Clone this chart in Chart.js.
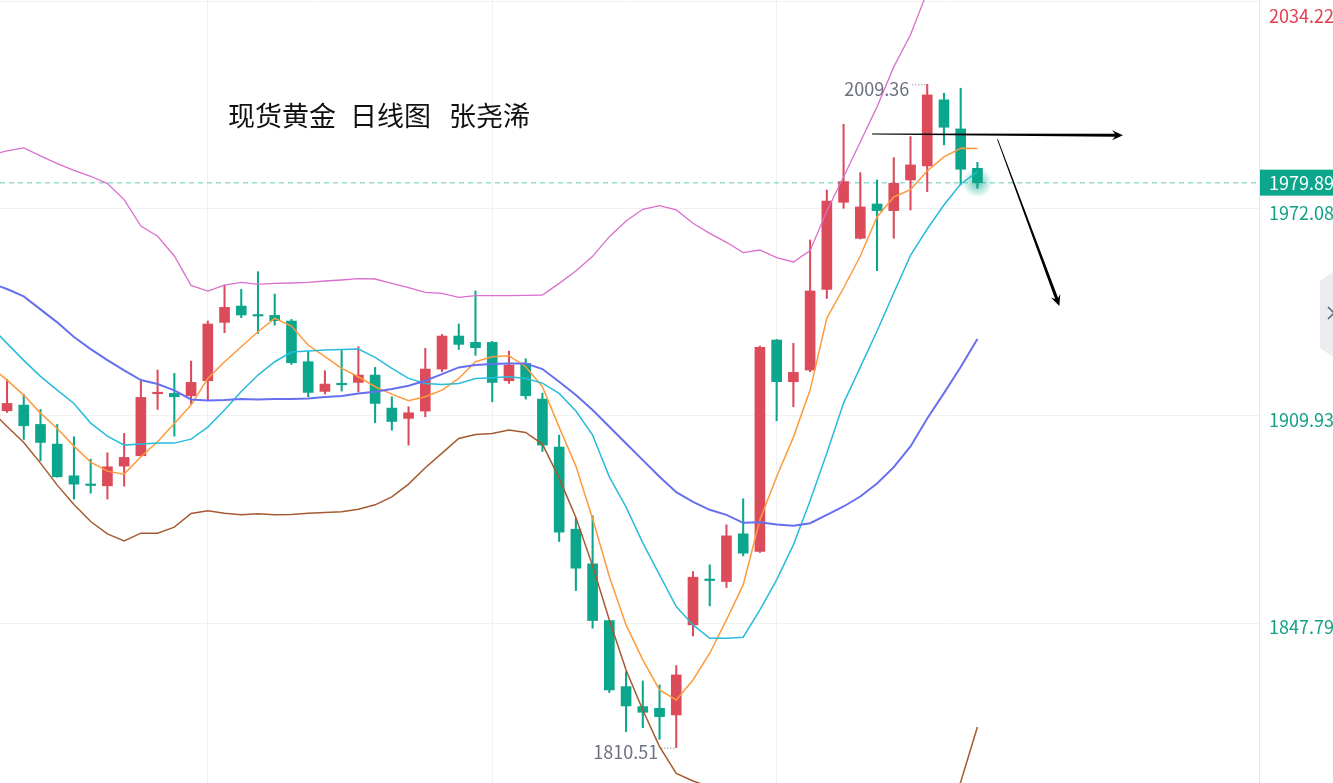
<!DOCTYPE html>
<html lang="zh">
<head>
<meta charset="utf-8">
<title>现货黄金 日线图</title>
<script src="https://cdn.jsdelivr.net/npm/chart.js@4.4.1/dist/chart.umd.min.js"></script>
<style>
  html, body { margin: 0; padding: 0; background: #fff; }
  #wrap { position: relative; width: 1333px; height: 783px; overflow: hidden; }
</style>
</head>
<body>
<div id="wrap"><canvas id="goldChart"></canvas></div>
<script>
// 日K数据：第0根到第58根（左 -> 右）
const opens = [
  1911.5, 1913.2, 1907.4, 1901.5, 1892.0, 1889.4, 1889.0, 1894.9, 1898.0, 1916.6,
  1916.7, 1916.0, 1920.5, 1938.0, 1942.9, 1940.1, 1940.1, 1938.4, 1926.2, 1917.3,
  1919.6, 1920.0, 1922.2, 1912.3, 1909.2, 1911.4, 1924.0, 1933.9, 1932.0, 1932.0,
  1920.5, 1925.7, 1915.0, 1900.6, 1876.0, 1865.6, 1848.6, 1828.8, 1822.8, 1822.3,
  1820.3, 1847.3, 1860.9, 1860.3, 1874.6, 1869.3, 1932.7, 1920.2, 1923.7, 1947.9,
  1974.0, 1963.2, 1973.5, 1971.5, 1980.7, 1984.9, 2004.7, 1996.0, 1984.2
];
const closes = [
  1913.7, 1907.0, 1902.0, 1891.7, 1889.5, 1889.1, 1894.7, 1897.5, 1915.5, 1916.9,
  1915.7, 1920.0, 1937.5, 1942.5, 1940.2, 1939.9, 1938.5, 1925.9, 1917.0, 1919.5,
  1919.3, 1922.2, 1913.7, 1908.3, 1910.9, 1924.0, 1933.9, 1931.4, 1930.4, 1920.0,
  1925.2, 1916.0, 1901.2, 1875.1, 1864.3, 1848.6, 1827.8, 1823.0, 1821.1, 1819.8,
  1832.3, 1861.6, 1860.6, 1874.0, 1868.8, 1930.5, 1920.2, 1923.0, 1947.4, 1974.4,
  1980.2, 1972.6, 1971.5, 1979.7, 1985.2, 2006.2, 1996.5, 1983.9, 1979.89
];
const highs = [
  1920.9, 1916.4, 1911.9, 1907.4, 1903.7, 1897.0, 1898.9, 1904.7, 1920.4, 1923.7,
  1922.7, 1926.4, 1938.4, 1949.2, 1947.9, 1953.2, 1946.5, 1938.9, 1929.2, 1923.5,
  1929.7, 1930.7, 1924.5, 1915.7, 1912.7, 1930.2, 1934.4, 1937.5, 1947.4, 1932.3,
  1929.4, 1927.1, 1916.8, 1904.2, 1879.3, 1880.0, 1848.6, 1833.3, 1830.5, 1829.3,
  1835.1, 1863.3, 1865.3, 1877.3, 1885.1, 1930.9, 1932.9, 1931.7, 1962.7, 1977.7,
  1997.4, 1982.9, 1980.7, 1987.4, 1993.7, 2009.36, 2006.7, 2008.2, 1986.0
];
const lows = [
  1911.0, 1902.9, 1896.5, 1891.6, 1885.0, 1886.8, 1885.0, 1888.9, 1897.9, 1911.9,
  1903.9, 1913.5, 1914.7, 1934.9, 1939.4, 1934.7, 1937.2, 1925.4, 1915.7, 1916.5,
  1917.4, 1917.2, 1907.9, 1905.7, 1901.2, 1909.7, 1923.2, 1929.9, 1928.1, 1914.2,
  1919.7, 1915.0, 1899.3, 1872.3, 1857.6, 1846.3, 1827.0, 1815.3, 1816.5, 1813.0,
  1810.51, 1844.0, 1853.0, 1858.5, 1868.0, 1869.0, 1908.5, 1912.7, 1923.2, 1945.2,
  1972.2, 1963.0, 1953.5, 1963.2, 1971.7, 1977.2, 1991.2, 1979.2, 1978.2
];

// 均线/布林带从第 -1 根开始（左边被截掉的那根）
const lineStart = -1;
const ma5 = [
  1924.9, 1920.7, 1916.2, 1910.8, 1906.2, 1900.9, 1896.1, 1893.4, 1892.5, 1897.7, 1902.2,
  1907.7, 1913.2, 1921.2, 1926.2, 1930.7, 1935.2, 1939.2, 1936.9, 1931.2, 1927.7,
  1924.2, 1921.7, 1918.7, 1916.5, 1914.5, 1915.7, 1917.7, 1921.2, 1926.2, 1927.7,
  1928.0, 1924.7, 1918.7, 1906.6, 1894.9, 1879.1, 1861.8, 1847.3, 1836.8, 1827.8,
  1824.8, 1830.8, 1838.8, 1848.8, 1859.3, 1878.8, 1891.7, 1903.6, 1917.7, 1939.3,
  1948.3, 1957.9, 1969.6, 1975.6, 1977.8, 1983.4, 1987.6, 1990.2, 1990.1
];
const ma10 = [
  1936.9, 1931.7, 1926.6, 1921.8, 1917.7, 1913.7, 1907.8, 1903.9, 1901.2, 1901.5, 1901.8,
  1901.8, 1903.0, 1906.6, 1911.7, 1917.3, 1922.2, 1926.2, 1929.1, 1929.4, 1929.7,
  1929.9, 1930.0, 1927.5, 1924.2, 1921.2, 1919.7, 1919.4, 1919.7, 1921.2, 1921.4,
  1921.7, 1921.2, 1919.8, 1916.7, 1911.4, 1904.2, 1891.7, 1882.6, 1871.9, 1862.3,
  1852.8, 1847.3, 1843.3, 1843.3, 1843.6, 1851.8, 1860.8, 1871.3, 1884.5, 1898.8,
  1913.8, 1924.6, 1935.4, 1946.8, 1958.1, 1966.0, 1973.2, 1979.5, 1983.1
];
const bollUp = [
  1988.2, 1989.4, 1990.3, 1987.9, 1985.6, 1983.6, 1981.8, 1979.6, 1974.8, 1966.9, 1963.8,
  1957.9, 1949.1, 1947.4, 1949.2, 1950.0, 1949.4, 1949.7, 1949.8, 1950.0, 1950.4,
  1950.7, 1951.1, 1951.0, 1949.7, 1948.4, 1947.0, 1946.7, 1945.5, 1946.0, 1946.0,
  1946.0, 1946.1, 1946.2, 1949.7, 1953.4, 1957.8, 1963.7, 1968.4, 1971.9, 1973.0,
  1971.7, 1967.7, 1964.7, 1962.0, 1958.9, 1959.7, 1957.4, 1956.1, 1959.5, 1971.4,
  1981.6, 1992.1, 2002.6, 2014.6, 2024.2, 2037.1, 2043.3, 2049.0, 2049.3
];
const bollMid = [
  1949.8, 1948.0, 1945.8, 1941.9, 1938.0, 1933.6, 1930.0, 1926.7, 1923.6, 1920.7, 1919.5,
  1917.6, 1914.9, 1914.6, 1914.7, 1915.0, 1914.9, 1915.0, 1915.0, 1915.2, 1915.6,
  1915.9, 1916.7, 1917.2, 1918.0, 1919.0, 1920.5, 1922.5, 1924.5, 1925.2, 1925.5,
  1925.7, 1925.7, 1924.0, 1920.2, 1916.2, 1911.7, 1906.7, 1901.7, 1896.7, 1891.7,
  1887.1, 1884.2, 1881.8, 1880.3, 1877.9, 1878.1, 1877.4, 1877.0, 1877.8, 1880.3,
  1882.8, 1885.8, 1889.7, 1894.6, 1900.8, 1909.2, 1916.8, 1924.6, 1933.0
];
const bollLow = [
  1911.7, 1906.8, 1902.0, 1895.8, 1889.2, 1883.4, 1878.3, 1874.6, 1872.5, 1874.8, 1874.8,
  1876.6, 1880.7, 1881.5, 1880.8, 1880.3, 1880.6, 1880.3, 1880.4, 1880.8, 1881.0,
  1881.2, 1882.0, 1883.3, 1885.7, 1889.5, 1894.4, 1898.8, 1903.2, 1904.4, 1904.7,
  1905.7, 1905.0, 1901.5, 1891.3, 1879.5, 1865.0, 1848.8, 1833.8, 1821.8, 1810.8,
  1802.8, 1800.5, 1798.8, 1798.5, 1797.0, 1796.4, 1797.4, 1797.8, 1796.0, 1789.1,
  1784.0, 1779.5, 1776.8, 1774.7, 1777.4, 1781.3, 1790.3, 1800.2, 1816.7
];

// 右侧价格刻度、现价、标注
const priceTicks = [1847.79, 1909.93, 1972.08, 2034.22];
const lastPrice = 1979.89;
const highMark = 2009.36;
const lowMark = 1810.51;
const gridDays = [12, 29, 46];

const upColor = '#db4b59';
const downColor = '#0ba68b';
const isUp = i => closes[i] >= opens[i];
const candleColor = ctx => isUp(ctx.dataIndex) ? upColor : downColor;

const wickData = opens.map((_, i) => ({ x: i, y: [lows[i], highs[i]] }));
const bodyData = opens.map((_, i) => ({ x: i, y: [opens[i], closes[i]] }));
const toPoints = arr => arr.map((v, k) => ({ x: lineStart + k, y: v }));

function lineSet(label, values, color, width) {
  return {
    type: 'line', label, data: toPoints(values),
    borderColor: color, borderWidth: width,
    pointRadius: 0, tension: 0, order: 0
  };
}

// 箭头（数据坐标：第几根K线，价格）
const arrows = [
  { from: [51.7, 1994.5], to: [66.7, 1994.1], w1: 1, w2: 3 },
  { from: [59.2, 1992.9], to: [62.9, 1942.9], w1: 0.8, w2: 3.2 }
];

function taperArrow(ctx, x1, y1, x2, y2, w1, w2) {
  const dx = x2 - x1, dy = y2 - y1, len = Math.hypot(dx, dy);
  const ux = dx / len, uy = dy / len, nx = -uy, ny = ux;
  const headLen = 11, headHalf = 5;
  const bx = x2 - ux * headLen, by = y2 - uy * headLen;
  const nb = x2 - ux * (headLen - 3), mb = y2 - uy * (headLen - 3);
  ctx.beginPath();
  ctx.moveTo(x1 + nx * w1 / 2, y1 + ny * w1 / 2);
  ctx.lineTo(nb + nx * w2 / 2, mb + ny * w2 / 2);
  ctx.lineTo(bx + nx * headHalf, by + ny * headHalf);
  ctx.lineTo(x2, y2);
  ctx.lineTo(bx - nx * headHalf, by - ny * headHalf);
  ctx.lineTo(nb - nx * w2 / 2, mb - ny * w2 / 2);
  ctx.lineTo(x1 - nx * w1 / 2, y1 - ny * w1 / 2);
  ctx.closePath();
  ctx.fill();
}

function markLabel(ctx, text, px, py) {
  ctx.font = '18px "Noto Sans CJK SC"';
  ctx.fillStyle = '#6c7080';
  ctx.textAlign = 'right';
  ctx.textBaseline = 'middle';
  ctx.fillText(text, px - 18, py + 5);
  ctx.strokeStyle = '#6c7080';
  ctx.lineWidth = 1;
  ctx.setLineDash([1, 2]);
  ctx.beginPath();
  ctx.moveTo(px - 15, py + 0.5);
  ctx.lineTo(px, py + 0.5);
  ctx.stroke();
  ctx.setLineDash([]);
}

const overlay = {
  id: 'overlay',
  beforeDatasetsDraw(chart) {
    const { ctx, chartArea: a, scales: { y } } = chart;
    const py = y.getPixelForValue(lastPrice);
    ctx.save();
    ctx.setLineDash([5, 4]);
    ctx.strokeStyle = 'rgba(11,166,139,0.42)';
    ctx.lineWidth = 1.5;
    ctx.beginPath();
    ctx.moveTo(a.left, py);
    ctx.lineTo(a.right, py);
    ctx.stroke();
    ctx.restore();
  },
  afterDatasetsDraw(chart) {
    const { ctx, scales: { x, y } } = chart;
    ctx.save();

    // 最新K线的光晕
    const gx = x.getPixelForValue(opens.length - 1), gy = y.getPixelForValue(lastPrice);
    const g = ctx.createRadialGradient(gx, gy, 2, gx, gy, 15);
    g.addColorStop(0, 'rgba(11,166,139,0.55)');
    g.addColorStop(1, 'rgba(11,166,139,0)');
    ctx.fillStyle = g;
    ctx.beginPath();
    ctx.arc(gx, gy, 15, 0, Math.PI * 2);
    ctx.fill();

    // 标题
    ctx.fillStyle = '#111';
    ctx.font = '27px "Noto Sans CJK SC"';
    ctx.textAlign = 'left';
    ctx.textBaseline = 'middle';
    ctx.fillText('现货黄金', 228, 116);
    ctx.fillText('日线图', 350, 116);
    ctx.fillText('张尧浠', 449, 116);

    // 最高/最低价标注
    const hi = highs.indexOf(highMark), lo = lows.indexOf(lowMark);
    markLabel(ctx, highMark.toFixed(2), x.getPixelForValue(hi), y.getPixelForValue(highMark));
    markLabel(ctx, lowMark.toFixed(2), x.getPixelForValue(lo), y.getPixelForValue(lowMark));

    // 手绘箭头
    ctx.fillStyle = '#000';
    arrows.forEach(a => {
      taperArrow(ctx,
        x.getPixelForValue(a.from[0]), y.getPixelForValue(a.from[1]),
        x.getPixelForValue(a.to[0]), y.getPixelForValue(a.to[1]), a.w1, a.w2);
    });
    ctx.restore();
  },
  afterDraw(chart) {
    const { ctx, chartArea: a, scales: { y }, width } = chart;
    ctx.save();
    // 现价标签
    const py = y.getPixelForValue(lastPrice);
    ctx.fillStyle = '#0ba68b';
    ctx.fillRect(a.right + 1, py - 13, width - a.right, 26);
    ctx.fillStyle = '#fff';
    ctx.font = '18px "Noto Sans CJK SC"';
    ctx.textAlign = 'left';
    ctx.textBaseline = 'middle';
    ctx.fillText(lastPrice.toFixed(2), a.right + 10, py + 1);

    // 顶部价格（红色）
    ctx.fillStyle = '#e0414f';
    const top = priceTicks[priceTicks.length - 1];
    ctx.fillText(top.toFixed(2), a.right + 10, y.getPixelForValue(top) + 15);

    // 右边缘的收起面板
    ctx.fillStyle = '#ececf0';
    ctx.beginPath();
    ctx.moveTo(width, 272);
    ctx.lineTo(1320, 281);
    ctx.lineTo(1320, 348);
    ctx.lineTo(width, 357);
    ctx.closePath();
    ctx.fill();
    ctx.strokeStyle = '#5a5e6e';
    ctx.lineWidth = 1.5;
    ctx.beginPath();
    ctx.moveTo(1328, 307);
    ctx.lineTo(1334, 313);
    ctx.lineTo(1328, 319);
    ctx.stroke();
    ctx.restore();
  }
};

Chart.defaults.font.family = '"Noto Sans CJK SC", "Noto Sans", sans-serif';

new Chart(document.getElementById('goldChart'), {
  type: 'bar',
  data: {
    datasets: [
      { label: '影线', data: wickData, backgroundColor: candleColor, barThickness: 1.4, grouped: false, order: 2 },
      { label: 'K线', data: bodyData, backgroundColor: candleColor, barThickness: 10, grouped: false, minBarLength: 1.5, order: 1 },
      lineSet('BOLL上轨', bollUp, '#da6fcd', 1.3),
      lineSet('BOLL中轨', bollMid, '#6670ee', 2),
      lineSet('BOLL下轨', bollLow, '#a65a30', 1.5),
      lineSet('MA10', ma10, '#27bcdc', 1.5),
      lineSet('MA5', ma5, '#ff9a3c', 1.5)
    ]
  },
  options: {
    responsive: true,
    maintainAspectRatio: false,
    animation: false,
    layout: { padding: 0, autoPadding: false },
    plugins: { legend: { display: false }, tooltip: { enabled: false } },
    scales: {
      x: {
        type: 'linear', min: -0.42, max: 74.83, offset: false,
        grid: { color: '#f1f1f4', drawTicks: false, offset: false },
        border: { display: false },
        ticks: { display: false },
        afterBuildTicks: s => { s.ticks = gridDays.map(v => ({ value: v })); },
        afterFit: s => { s.height = 0; s.paddingLeft = 0; s.paddingRight = 0; }
      },
      y: {
        type: 'linear', position: 'right', min: 1799.9, max: 2034.65,
        grid: { color: '#f1f1f4', drawTicks: false },
        border: { display: true, color: '#e6e6ea' },
        ticks: {
          autoSkip: false, padding: 10, labelOffset: 4,
          color: '#12a086', font: { size: 18 },
          callback: v => v === priceTicks[priceTicks.length - 1] ? '' : v.toFixed(2)
        },
        afterBuildTicks: s => { s.ticks = priceTicks.map(v => ({ value: v })); },
        afterFit: s => { s.width = 74; s.paddingTop = 0; s.paddingBottom = 0; }
      }
    }
  },
  plugins: [overlay]
});
</script>
</body>
</html>
